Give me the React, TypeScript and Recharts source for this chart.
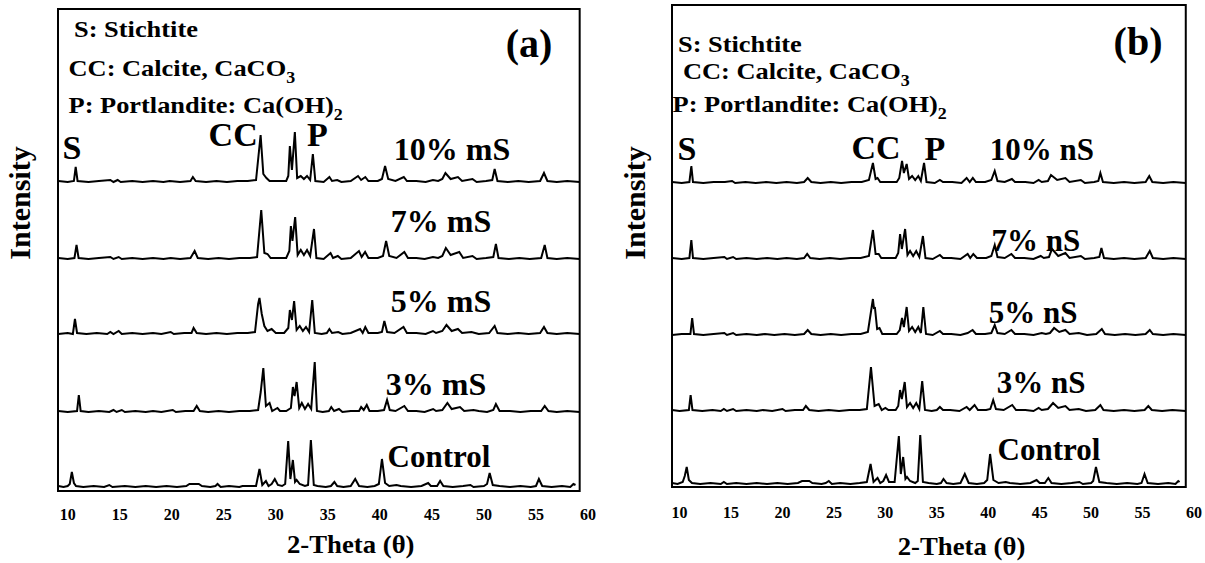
import React from 'react';
import { LineChart, Line, XAxis, YAxis, ReferenceArea, ReferenceDot } from 'recharts';

type Pt = [number, number];

// ---------- DATA ----------
const xTicks = [10, 15, 20, 25, 30, 35, 40, 45, 50, 55, 60];
const seriesNamesA = ['Control', '3% mS', '5% mS', '7% mS', '10% mS'];
const seriesNamesB = ['Control', '3% nS', '5% nS', '7% nS', '10% nS'];

// Panel (a): micro-silica series, [2-theta, intensity (a.u.)]
const controlA: Pt[] = [[9.1,1],[9.6,0],[10.0,1],[10.2,3],[10.4,15],[10.6,4],[10.8,1],[11.5,0],[12.5,1],[13.5,0],[14.0,2],[14.3,0],[15.5,1],[16.5,0],[17.5,1],[18.5,0],[19.5,1],[20.5,0],[21.4,1],[21.7,3],[22.2,3],[22.6,3],[22.9,1],[23.7,0],[24.2,1],[24.4,3],[24.7,0],[25.5,1],[26.5,0],[26.8,1],[27.5,1],[28.1,1],[28.43,18],[28.7,2],[29.05,6],[29.3,1],[29.6,3],[29.9,8],[30.2,2],[30.6,1],[30.9,3],[31.19,46],[31.4,8],[31.64,27],[31.85,5],[32.0,7],[32.3,3],[32.8,1],[33.1,2],[33.37,47],[33.65,2],[34.0,1],[34.8,0],[35.3,1],[35.63,5],[35.9,1],[36.5,0],[37.2,1],[37.63,8],[38.0,1],[38.8,0],[39.5,1],[39.9,3],[40.2,28],[40.5,4],[40.9,1],[41.6,2],[42.0,1],[43.0,0],[44.0,1],[44.64,4],[44.9,1],[45.5,1],[45.79,6],[46.1,1],[47.0,0],[48.0,1],[48.7,2],[49.0,0],[50.0,1],[50.3,3],[50.55,14],[50.85,2],[51.5,1],[52.5,0],[53.5,1],[54.5,0],[55.0,1],[55.28,8],[55.6,1],[56.5,0],[57.5,1],[58.3,0],[58.6,3],[58.8,2]];
const ms3: Pt[] = [[9.1,1],[10.0,0],[10.9,1],[11.07,17],[11.25,1],[12.0,0],[13.0,1],[14.0,0],[14.4,2],[14.7,0],[15.2,2],[15.5,0],[16.5,1],[17.5,0],[18.2,1],[19.0,0],[20.1,2],[20.4,0],[21.3,1],[22.1,1],[22.4,6],[22.7,1],[23.5,0],[24.5,1],[25.5,0],[26.5,1],[27.5,1],[28.3,2],[28.55,20],[28.8,44],[29.05,6],[29.4,9],[29.65,1],[30.16,4],[30.4,1],[31.0,1],[31.45,4],[31.64,25],[31.8,16],[32.0,30],[32.25,4],[32.5,9],[32.8,3],[33.1,8],[33.4,3],[33.74,50],[33.95,1],[34.5,0],[35.1,1],[35.33,5],[35.6,1],[36.07,3],[36.4,0],[37.2,1],[38.0,1],[38.2,5],[38.45,2],[38.74,7],[39.0,1],[39.8,1],[40.4,2],[40.69,12],[40.95,2],[41.5,1],[42.35,6],[42.7,1],[43.5,1],[44.3,0],[45.12,3],[45.4,1],[46.0,2],[46.49,9],[46.9,3],[47.7,5],[48.1,1],[49.0,2],[49.5,1],[50.3,0],[50.9,2],[51.15,8],[51.5,1],[52.5,1],[53.5,0],[54.5,1],[55.5,1],[55.84,6],[56.2,1],[57.0,0],[58.0,1],[59.2,0]];
const ms5: Pt[] = [[9.1,0],[10.0,1],[10.5,0],[10.7,15],[10.9,1],[11.8,0],[12.8,1],[13.8,0],[14.1,2],[14.4,0],[14.9,3],[15.2,0],[16.2,1],[17.2,0],[18.2,1],[19.0,0],[19.9,2],[20.2,0],[21.2,1],[21.9,1],[22.1,6],[22.4,1],[23.3,0],[24.3,1],[25.3,0],[26.3,1],[27.3,1],[28.0,2],[28.3,30],[28.43,36],[28.65,20],[28.9,8],[29.2,3],[29.6,5],[30.0,1],[30.8,1],[31.2,6],[31.35,24],[31.55,14],[31.76,33],[32.0,4],[32.3,8],[32.6,3],[32.9,7],[33.2,2],[33.5,34],[33.75,1],[34.4,0],[34.9,1],[35.15,5],[35.4,1],[36.0,2],[36.4,0],[37.2,1],[38.1,5],[38.35,1],[38.6,7],[38.9,1],[39.8,1],[40.2,2],[40.43,13],[40.7,2],[41.4,1],[42.27,7],[42.6,1],[43.5,1],[44.4,0],[45.1,3],[45.4,1],[46.0,3],[46.4,9],[46.9,3],[47.5,5],[47.9,1],[48.8,2],[49.5,0],[50.5,1],[51.03,8],[51.3,1],[52.3,0],[53.3,1],[54.3,0],[55.4,1],[55.77,7],[56.1,1],[57.0,0],[58.0,1],[59.2,0]];
const ms7: Pt[] = [[9.1,1],[10.0,0],[10.65,1],[10.85,14],[11.05,1],[12.0,0],[13.0,1],[14.1,2],[14.4,0],[14.9,2],[15.2,0],[16.2,1],[17.2,0],[18.2,1],[19.2,0],[19.9,1],[20.8,0],[21.8,1],[22.2,8],[22.5,1],[23.5,0],[24.5,1],[25.5,0],[26.5,1],[27.5,1],[28.2,2],[28.6,49],[28.9,6],[29.2,5],[29.5,1],[30.2,1],[31.0,1],[31.3,8],[31.45,33],[31.6,18],[31.86,42],[32.1,4],[32.4,9],[32.7,4],[33.0,9],[33.3,3],[33.67,30],[33.9,1],[34.6,0],[35.26,6],[35.5,1],[35.96,3],[36.3,0],[37.2,1],[37.99,8],[38.25,2],[38.58,7],[38.9,1],[39.8,1],[40.3,3],[40.6,18],[40.9,3],[41.6,1],[42.35,7],[42.7,1],[43.5,1],[44.3,0],[45.1,2],[45.6,1],[46.0,3],[46.34,11],[46.8,4],[47.63,7],[48.0,1],[48.9,3],[49.3,0],[50.2,1],[50.9,2],[51.15,15],[51.4,1],[52.4,0],[53.4,1],[54.4,0],[55.5,1],[55.84,14],[56.1,1],[57.0,0],[58.0,1],[59.2,0]];
const ms10: Pt[] = [[9.1,1],[10.0,0],[10.6,1],[10.77,15],[10.95,1],[12.0,0],[13.0,1],[14.1,2],[14.4,0],[14.8,2],[15.1,0],[16.2,1],[17.2,0],[18.2,1],[19.2,0],[19.8,1],[20.8,0],[21.8,1],[22.03,5],[22.3,1],[23.3,0],[24.3,1],[25.3,0],[26.3,1],[27.3,1],[28.1,2],[28.54,47],[28.8,8],[29.1,4],[29.4,1],[30.2,1],[31.0,1],[31.2,6],[31.35,36],[31.55,12],[31.83,50],[32.05,4],[32.4,6],[32.7,3],[33.0,6],[33.3,2],[33.56,28],[33.8,1],[34.6,0],[35.15,5],[35.4,1],[35.9,2],[36.3,0],[37.2,1],[37.9,6],[38.2,2],[38.6,5],[38.9,1],[39.8,1],[40.2,3],[40.5,16],[40.8,3],[41.5,1],[42.3,5],[42.6,1],[43.5,1],[44.4,0],[45.1,2],[45.6,1],[46.0,3],[46.3,9],[46.8,3],[47.5,5],[47.9,1],[48.9,3],[49.3,0],[50.2,1],[50.8,2],[51.03,13],[51.3,1],[52.3,0],[53.3,1],[54.3,0],[55.4,1],[55.77,9],[56.1,1],[57.0,0],[58.0,1],[59.2,0]];

// Panel (b): nano-silica series
const controlB: Pt[] = [[9.26,1],[9.8,0],[10.3,2],[10.5,8],[10.69,17],[10.9,4],[11.2,1],[12.0,0],[13.0,1],[14.0,0],[14.3,2],[14.6,0],[15.5,1],[16.5,0],[17.5,1],[18.5,0],[19.5,1],[20.5,0],[21.5,1],[21.9,3],[22.3,3],[22.6,3],[22.9,1],[23.8,0],[24.2,1],[24.5,3],[24.8,0],[25.6,1],[26.6,0],[27.5,1],[28.2,2],[28.56,20],[28.85,2],[29.24,6],[29.5,1],[29.8,3],[30.07,9],[30.35,2],[30.9,2],[31.31,48],[31.5,10],[31.73,27],[31.95,5],[32.1,7],[32.4,3],[32.9,1],[33.15,3],[33.39,49],[33.65,2],[34.2,1],[35.0,0],[35.4,1],[35.65,5],[35.95,1],[36.6,0],[37.3,1],[37.72,10],[38.1,1],[38.9,0],[39.6,1],[39.9,4],[40.18,30],[40.5,4],[41.0,1],[41.7,2],[42.1,1],[43.1,0],[44.1,1],[44.7,4],[45.0,1],[45.5,1],[45.84,6],[46.15,1],[47.1,0],[48.1,1],[48.86,2],[49.2,0],[50.0,1],[50.2,3],[50.47,17],[50.8,2],[51.5,1],[52.5,0],[53.5,1],[54.5,0],[54.9,1],[55.19,10],[55.5,1],[56.5,0],[57.5,1],[58.2,0],[58.47,3],[58.6,2]];
const ns3: Pt[] = [[9.26,1],[10.0,0],[10.9,1],[11.07,16],[11.25,1],[12.2,0],[13.2,1],[14.0,0],[14.3,2],[14.6,0],[15.2,2],[15.5,0],[16.5,1],[17.5,0],[18.1,1],[19.0,0],[20.0,2],[20.3,0],[21.2,1],[22.0,1],[22.27,5],[22.6,1],[23.5,0],[24.5,1],[25.5,0],[26.5,1],[27.5,1],[28.2,2],[28.6,44],[28.95,5],[29.35,7],[29.65,1],[30.0,3],[30.3,1],[31.0,1],[31.25,5],[31.43,21],[31.6,12],[31.88,29],[32.1,4],[32.4,8],[32.7,3],[33.0,8],[33.3,2],[33.58,30],[33.85,1],[34.5,0],[35.0,1],[35.3,4],[35.6,1],[36.3,1],[37.2,0],[37.9,4],[38.2,1],[38.67,6],[39.0,1],[39.8,1],[40.2,2],[40.48,11],[40.75,2],[41.5,1],[42.33,6],[42.7,1],[43.6,1],[44.4,0],[44.9,3],[45.2,1],[45.8,2],[46.3,8],[46.8,3],[47.5,5],[47.9,1],[48.8,2],[49.5,0],[50.4,1],[50.9,6],[51.2,1],[52.2,0],[53.2,1],[54.2,0],[55.2,1],[55.56,5],[55.9,1],[56.9,0],[57.9,1],[59.2,0]];
const ns5: Pt[] = [[9.26,0],[10.2,1],[11.05,1],[11.22,17],[11.4,1],[12.3,0],[13.3,1],[14.35,2],[14.6,0],[15.2,2],[15.5,0],[16.5,1],[17.5,0],[18.3,1],[19.2,0],[20.2,1],[21.2,0],[22.1,1],[22.45,5],[22.8,1],[23.7,0],[24.7,1],[25.7,0],[26.7,1],[27.6,1],[28.3,3],[28.79,36],[28.9,26],[28.98,28],[29.2,6],[29.43,7],[29.7,1],[30.4,1],[31.1,1],[31.4,5],[31.62,17],[31.8,8],[32.07,28],[32.3,4],[32.6,8],[32.9,3],[33.2,8],[33.45,2],[33.69,28],[33.95,1],[34.6,0],[35.3,4],[35.6,1],[36.4,1],[37.3,0],[38.0,2],[38.48,5],[38.8,1],[39.7,1],[40.3,2],[40.63,10],[40.9,2],[41.6,1],[42.25,5],[42.6,1],[43.5,1],[44.4,0],[45.2,2],[45.6,1],[46.0,2],[46.4,7],[46.9,3],[47.5,5],[47.9,1],[48.8,2],[49.6,0],[50.5,1],[51.04,6],[51.35,1],[52.3,0],[53.3,1],[54.3,0],[55.3,1],[55.7,5],[56.0,1],[57.0,0],[58.0,1],[59.2,0]];
const ns7: Pt[] = [[9.26,1],[10.2,0],[10.95,1],[11.14,19],[11.3,1],[12.3,0],[13.3,1],[14.35,2],[14.6,0],[15.2,2],[15.5,0],[16.5,1],[17.5,0],[18.5,1],[19.5,0],[20.4,1],[21.4,0],[22.1,1],[22.4,5],[22.7,1],[23.6,0],[24.6,1],[25.6,0],[26.6,1],[27.6,1],[28.4,3],[28.79,29],[29.05,5],[29.35,5],[29.6,1],[30.4,1],[31.0,1],[31.25,6],[31.43,25],[31.6,10],[31.92,30],[32.15,4],[32.4,8],[32.7,3],[33.0,8],[33.3,2],[33.65,23],[33.9,1],[34.6,0],[35.3,4],[35.6,1],[36.4,1],[37.3,0],[38.0,5],[38.25,1],[38.55,5],[38.9,1],[39.8,1],[40.3,3],[40.63,14],[40.9,2],[41.6,1],[42.25,5],[42.6,1],[43.5,1],[44.4,0],[45.1,3],[45.4,1],[45.9,2],[46.2,10],[46.8,3],[47.5,6],[47.9,1],[49.0,3],[49.4,0],[50.3,1],[50.8,2],[51.0,11],[51.25,1],[52.2,0],[53.2,1],[54.2,0],[55.3,1],[55.7,8],[56.0,1],[57.0,0],[58.0,1],[59.2,0]];
const ns10: Pt[] = [[9.26,1],[10.2,0],[10.95,1],[11.14,17],[11.3,1],[12.3,0],[13.3,1],[14.4,1],[15.1,2],[15.4,0],[16.4,1],[17.4,0],[18.4,1],[19.4,0],[20.4,1],[21.4,0],[22.1,1],[22.45,5],[22.8,1],[23.7,0],[24.7,1],[25.7,0],[26.7,1],[27.7,1],[28.4,3],[28.79,20],[29.05,4],[29.24,5],[29.5,1],[30.4,1],[31.1,1],[31.35,5],[31.62,22],[31.8,10],[32.07,19],[32.3,4],[32.6,7],[32.9,3],[33.2,7],[33.45,2],[33.76,20],[34.0,1],[34.8,0],[35.3,3],[35.6,1],[36.5,1],[37.4,0],[37.9,5],[38.2,1],[38.5,5],[38.8,1],[39.7,1],[40.3,3],[40.63,12],[40.9,2],[41.6,1],[42.3,4],[42.6,1],[43.6,1],[44.4,0],[44.9,3],[45.2,1],[45.8,2],[46.1,8],[46.7,3],[47.5,5],[47.9,1],[49.0,3],[49.4,0],[50.3,1],[50.7,2],[50.9,10],[51.15,1],[52.2,0],[53.2,1],[54.2,0],[55.3,1],[55.65,7],[55.95,1],[57.0,0],[58.0,1],[59.2,0]];

// vertical stacking offsets (a.u.) for Control, 3%, 5%, 7%, 10%
const offsetsA = [4, 79, 157, 232, 309];
const offsetsB = [3, 76, 152, 228, 304];

// ---------- LAYOUT / STYLE ----------
const FONT = '"Liberation Serif", "Times New Roman", serif';
const PLOT_H = 482;

type Ann = { x: number; y: number; text: string; sub?: string; size: number; anchor: 'start' | 'middle' | 'end'; sx?: number };

const legendTextA: Ann[] = [
  { x: 10.61, y: 454, text: 'S: Stichtite', size: 24, anchor: 'start', sx: 1.1 },
  { x: 10.08, y: 415, text: 'CC: Calcite, CaCO', sub: '3', size: 24, anchor: 'start', sx: 1.1 },
  { x: 10.08, y: 378, text: 'P: Portlandite: Ca(OH)', sub: '2', size: 24, anchor: 'start', sx: 1.1 },
  { x: 54.33, y: 434, text: '(a)', size: 40, anchor: 'middle' },
  { x: 10.42, y: 332, text: 'S', size: 34, anchor: 'middle' },
  { x: 25.9, y: 345, text: 'CC', size: 34, anchor: 'middle' },
  { x: 34.0, y: 345, text: 'P', size: 34, anchor: 'middle' },
];
const seriesLabelPosA: Pt[] = [[45.68, 24], [45.39, 96], [45.87, 179], [45.87, 259], [46.93, 331]];
const seriesLabelSizeA = [31, 32, 32, 32, 32];

const legendTextB: Ann[] = [
  { x: 9.84, y: 435, text: 'S: Stichtite', size: 24, anchor: 'start', sx: 1.1 },
  { x: 10.33, y: 408, text: 'CC: Calcite, CaCO', sub: '3', size: 24, anchor: 'start', sx: 1.1 },
  { x: 9.31, y: 375, text: 'P: Portlandite: Ca(OH)', sub: '2', size: 24, anchor: 'start', sx: 1.1 },
  { x: 54.56, y: 432, text: '(b)', size: 40, anchor: 'middle' },
  { x: 10.72, y: 327, text: 'S', size: 34, anchor: 'middle' },
  { x: 29.09, y: 328, text: 'CC', size: 34, anchor: 'middle' },
  { x: 34.82, y: 327, text: 'P', size: 34, anchor: 'middle' },
];
const seriesLabelPosB: Pt[] = [[45.9, 27], [45.13, 94], [44.35, 164], [44.64, 236], [45.22, 327]];
const seriesLabelSizeB = [31, 31, 31, 31, 31];

const textLabel = (a: Ann) => (props: any) => {
  const vb = props.viewBox || {};
  const x = (vb.x ?? 0) + (vb.width ?? 0) / 2;
  const y = (vb.y ?? 0) + (vb.height ?? 0) / 2;
  const sx = a.sx ?? 1;
  return (
    <text x={0} y={0} transform={`translate(${x},${y}) scale(${sx},1)`} fontFamily={FONT} fontWeight="bold"
      fontSize={a.size} textAnchor={a.anchor} fill="#000">
      {a.text}
      {a.sub ? <tspan dy={a.size * 0.28} fontSize={a.size * 0.68}>{a.sub}</tspan> : null}
    </text>
  );
};

type PanelProps = {
  left: number; width: number; plotLeft: number; plotRight: number; top: number;
  domain: [number, number]; frameEnd: number; traces: Pt[][]; offsets: number[];
  names: string[]; namePos: Pt[]; nameSize: number[]; legend: Ann[]; tickMargin: number;
  titleDeg: number; titleDy: number; yLabX: number; yLabY: number;
};

function Panel(p: PanelProps) {
  const xAxisH = 563 - p.top - PLOT_H;
  const labels: Ann[] = [
    ...p.legend,
    ...p.names.map((n, i) => ({ x: p.namePos[i][0], y: p.namePos[i][1], text: n, size: p.nameSize[i], anchor: 'middle' as const })),
  ];
  return (
    <div style={{ position: 'absolute', left: p.left, top: 0 }}>
      <LineChart width={p.width} height={563} margin={{ top: p.top, right: p.width - p.plotRight, bottom: 0, left: 0 }}>
        <XAxis
          dataKey="x" type="number" domain={p.domain} ticks={xTicks} interval={0} allowDataOverflow
          axisLine={false} tickLine={false} tickSize={6} tickMargin={p.tickMargin} height={xAxisH}
          tick={{ fontSize: 16, fontWeight: 'bold', fill: '#000', fontFamily: FONT }}
          label={(lp: any) => {
            const vb = lp.viewBox;
            const cx = vb.x + ((p.titleDeg - p.domain[0]) / (p.domain[1] - p.domain[0])) * vb.width;
            const cy = vb.y + p.titleDy;
            return (
              <text x={0} y={0} transform={`translate(${cx},${cy}) scale(1.07,1)`} textAnchor="middle"
                fontFamily={FONT} fontWeight="bold" fontSize={25} fill="#000">
                2-Theta (θ)
              </text>
            );
          }}
        />
        <YAxis
          type="number" domain={[0, PLOT_H]} width={p.plotLeft} tick={false} axisLine={false} tickLine={false} allowDataOverflow
          label={(lp: any) => {
            const vb = lp.viewBox;
            const x = vb.x + p.yLabX;
            return (
              <text x={x} y={p.yLabY} textAnchor="middle" fontFamily={FONT} fontWeight="bold" fontSize={30} fill="#000"
                transform={`rotate(-90, ${x}, ${p.yLabY})`}>
                Intensity
              </text>
            );
          }}
        />
        <ReferenceArea x1={p.domain[0]} x2={p.frameEnd} y1={0} y2={PLOT_H} fill="none" fillOpacity={0}
          stroke="#000" strokeWidth={2} ifOverflow="visible" />
        {p.traces.map((t, i) => (
          <Line key={i} data={t.map(([x, y]) => ({ x, y: y + p.offsets[i] }))} dataKey="y" name={p.names[i]}
            stroke="#000" strokeWidth={2} dot={false} isAnimationActive={false} type="linear" />
        ))}
        {labels.map((a, i) => (
          <ReferenceDot key={'l' + i} x={a.x} y={a.y} r={0} fill="none" stroke="none" label={textLabel(a)} />
        ))}
      </LineChart>
    </div>
  );
}

export default function App() {
  return (
    <div style={{ position: 'absolute', left: 0, top: 0, width: 1205, height: 563, background: '#fff' }}>
      <Panel left={0} width={600} plotLeft={58} plotRight={588} top={9} domain={[9.07, 60]} frameEnd={59.2}
        traces={[controlA, ms3, ms5, ms7, ms10]} offsets={offsetsA} names={seriesNamesA} namePos={seriesLabelPosA}
        nameSize={seriesLabelSizeA} legend={legendTextA} tickMargin={12} titleDeg={37.2} titleDy={62} yLabX={30} yLabY={203} />
      <Panel left={600} width={605} plotLeft={72} plotRight={594} top={5} domain={[9.26, 60]} frameEnd={59.2}
        traces={[controlB, ns3, ns5, ns7, ns10]} offsets={offsetsB} names={seriesNamesB} namePos={seriesLabelPosB}
        nameSize={seriesLabelSizeB} legend={legendTextB} tickMargin={14} titleDeg={37.4} titleDy={68} yLabX={45} yLabY={203} />
    </div>
  );
}
